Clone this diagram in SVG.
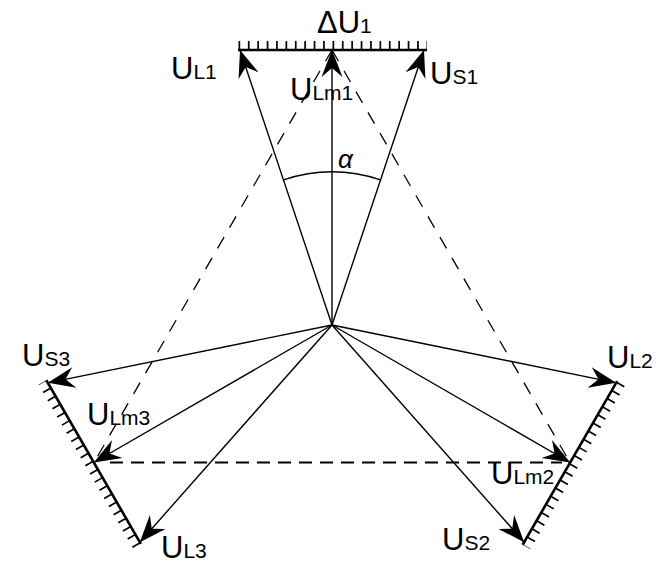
<svg xmlns="http://www.w3.org/2000/svg" width="664" height="564" viewBox="0 0 664 564">
<style>
.v{stroke:#000;stroke-width:1.4;fill:none;marker-end:url(#ah)}
.bar{stroke:#000;stroke-width:2.6;fill:none}
.hatch{stroke:#000;stroke-width:9;fill:none;stroke-dasharray:1.7 7.7}
.dl{stroke:#000;stroke-width:1.3;fill:none;stroke-dasharray:13 11}
.dh{stroke:#000;stroke-width:2.2;fill:none;stroke-dasharray:13 8}
.lb{font-family:"Liberation Sans",Arial,sans-serif;font-size:31px;fill:#000}
.sb{font-size:21px}
</style>
<defs>
<marker id="ah" markerUnits="userSpaceOnUse" markerWidth="32" markerHeight="26" refX="0" refY="0" viewBox="-30 -13 32 26" orient="auto" overflow="visible">
<path d="M0,0 L-27,-10.5 L-18,0 L-27,10.5 Z" fill="#000"/>
</marker>
</defs>
<rect width="664" height="564" fill="#fff"/>
<g id="connectors">
<g id="dashed">
<line class="dl" x1="332" y1="50" x2="94" y2="462.5"/>
<line class="dl" x1="332" y1="50" x2="570" y2="462.5"/>
<line class="dh" x1="110" y1="462.5" x2="562" y2="462.5"/>
</g>
<g id="arm1">
<line class="v" x1="332" y1="325" x2="240" y2="50"/>
<line class="v" x1="332" y1="325" x2="332" y2="50"/>
<line class="v" x1="332" y1="325" x2="424" y2="50"/>
<line class="bar" x1="238" y1="50" x2="427" y2="50"/>
<line class="hatch" x1="238.5" y1="45.5" x2="427" y2="45.5"/>
</g>
<g id="arm2" transform="rotate(120 332 325)">
<line class="v" x1="332" y1="325" x2="240" y2="50"/>
<line class="v" x1="332" y1="325" x2="332" y2="50"/>
<line class="v" x1="332" y1="325" x2="424" y2="50"/>
<line class="bar" x1="238" y1="50" x2="427" y2="50"/>
<line class="hatch" x1="238.5" y1="45.5" x2="427" y2="45.5"/>
</g>
<g id="arm3" transform="rotate(240 332 325)">
<line class="v" x1="332" y1="325" x2="240" y2="50"/>
<line class="v" x1="332" y1="325" x2="332" y2="50"/>
<line class="v" x1="332" y1="325" x2="424" y2="50"/>
<line class="bar" x1="238" y1="50" x2="427" y2="50"/>
<line class="hatch" x1="238.5" y1="45.5" x2="427" y2="45.5"/>
</g>
<g id="angle">
<path d="M283.5,179.9 A153,153 0 0 1 380.5,179.9" fill="none" stroke="#000" stroke-width="1.4"/>
</g>
</g>
<g id="n-dU1"><text class="lb" x="317" y="33">ΔU<tspan class="sb">1</tspan></text></g>
<g id="n-UL1"><text class="lb" x="171" y="79">U<tspan class="sb">L1</tspan></text></g>
<g id="n-US1"><text class="lb" x="430" y="84">U<tspan class="sb">S1</tspan></text></g>
<g id="n-ULm1"><text class="lb" x="290" y="100">U<tspan class="sb">Lm1</tspan></text></g>
<g id="n-alpha"><text x="338" y="168" font-family="'Liberation Sans',Arial,sans-serif" font-style="italic" font-size="26" fill="#000">α</text></g>
<g id="n-US3"><text class="lb" x="22" y="366">U<tspan class="sb">S3</tspan></text></g>
<g id="n-ULm3"><text class="lb" x="87" y="425">U<tspan class="sb">Lm3</tspan></text></g>
<g id="n-UL3"><text class="lb" x="161" y="558">U<tspan class="sb">L3</tspan></text></g>
<g id="n-US2"><text class="lb" x="442" y="550">U<tspan class="sb">S2</tspan></text></g>
<g id="n-UL2"><text class="lb" x="607" y="368">U<tspan class="sb">L2</tspan></text></g>
<g id="n-ULm2"><text class="lb" x="491" y="484">U<tspan class="sb">Lm2</tspan></text></g>
</svg>
